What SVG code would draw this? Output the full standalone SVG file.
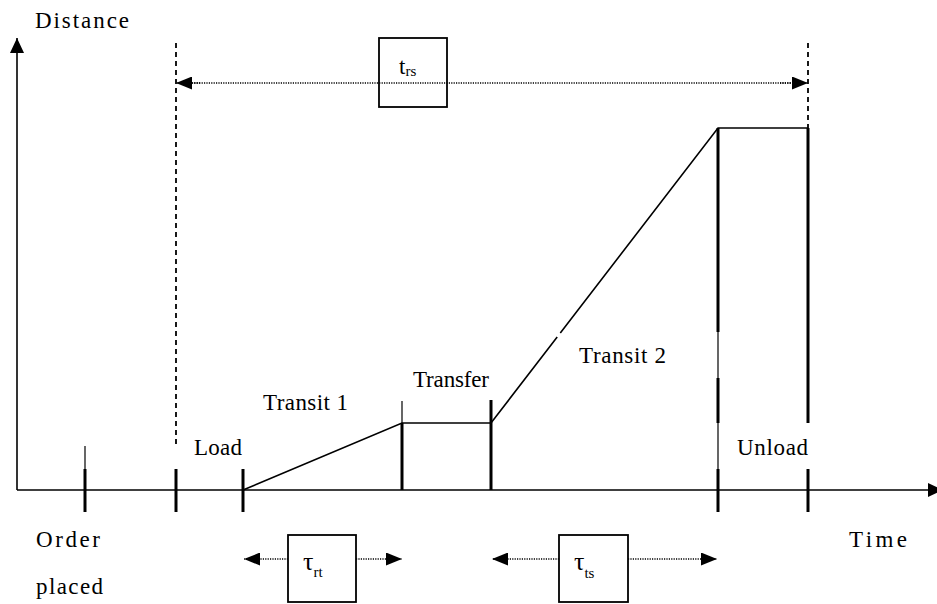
<svg xmlns="http://www.w3.org/2000/svg" width="937" height="604" viewBox="0 0 937 604">
<defs>
  <marker id="ah" viewBox="0 0 16 13" refX="16" refY="6.5" markerWidth="16" markerHeight="13" markerUnits="userSpaceOnUse" orient="auto">
    <path d="M0,0 L16,6.5 L0,13 Z" fill="#000"/>
  </marker>
  <marker id="axh" viewBox="0 0 15 14" refX="15" refY="7" markerWidth="15" markerHeight="14" markerUnits="userSpaceOnUse" orient="auto">
    <path d="M0,0 L15,7 L0,14 Z" fill="#000"/>
  </marker>
</defs>
<rect width="937" height="604" fill="#fff"/>

<g id="connectors" stroke="#000" fill="none">
  <g id="axes" stroke-width="1.6">
    <line x1="17" y1="490" x2="17" y2="38" marker-end="url(#axh)"/>
    <line x1="17" y1="490" x2="943" y2="490" marker-end="url(#axh)"/>
  </g>
  <g id="dashed" stroke-width="1.8" stroke-dasharray="5 4">
    <line x1="176" y1="43" x2="176" y2="446"/>
    <line x1="808" y1="43" x2="808" y2="128"/>
  </g>
  <g id="thin-ticks" stroke-width="1.2">
    <line x1="85" y1="446" x2="85" y2="469"/>
    <line x1="402" y1="401" x2="402" y2="423"/>
    <line x1="718" y1="332" x2="718" y2="378"/>
    <line x1="718" y1="423" x2="718" y2="469"/>
  </g>
  <g id="thick-ticks" stroke-width="3">
    <line x1="85" y1="469" x2="85" y2="512"/>
    <line x1="176" y1="469" x2="176" y2="512"/>
    <line x1="243" y1="469" x2="243" y2="512"/>
    <line x1="402" y1="423" x2="402" y2="490"/>
    <line x1="491" y1="400" x2="491" y2="490"/>
    <line x1="718" y1="128" x2="718" y2="332"/>
    <line x1="718" y1="378" x2="718" y2="423"/>
    <line x1="718" y1="469" x2="718" y2="512"/>
    <line x1="808" y1="128" x2="808" y2="423"/>
    <line x1="808" y1="469" x2="808" y2="512"/>
  </g>
  <g id="profile" stroke-width="1.6">
    <polyline points="243,490 402,423 491,423 557.2,337"/>
    <polyline points="560.3,333 718,128 808,128"/>
  </g>
  <g id="intervals" stroke-width="1.5" stroke-dasharray="1.2 1.2">
    <line x1="192" y1="83" x2="792" y2="83"/>
    <line x1="200" y1="83" x2="176" y2="83" marker-end="url(#ah)"/>
    <line x1="780" y1="83" x2="808" y2="83" marker-end="url(#ah)"/>
    <line x1="288" y1="559" x2="244" y2="559" marker-end="url(#ah)"/>
    <line x1="356" y1="559" x2="402" y2="559" marker-end="url(#ah)"/>
    <line x1="559" y1="559" x2="492" y2="559" marker-end="url(#ah)"/>
    <line x1="628" y1="559" x2="717" y2="559" marker-end="url(#ah)"/>
  </g>
</g>

<g id="axis-labels" fill="#000">
  <text x="35" y="28" font-family="Liberation Serif" font-size="23" textLength="94" lengthAdjust="spacing">Distance</text>
  <text x="849" y="547" font-family="Liberation Serif" font-size="23" textLength="58" lengthAdjust="spacing">Time</text>
  <text x="36" y="547" font-family="Liberation Serif" font-size="23" textLength="64" lengthAdjust="spacing">Order</text>
  <text x="36" y="594" font-family="Liberation Serif" font-size="23" textLength="67" lengthAdjust="spacing">placed</text>
</g>

<g id="phase-labels" fill="#000">
  <text x="194" y="455" font-family="Liberation Serif" font-size="23" textLength="48" lengthAdjust="spacing">Load</text>
  <text x="263" y="410" font-family="Liberation Serif" font-size="23" textLength="85" lengthAdjust="spacing">Transit 1</text>
  <text x="413" y="387" font-family="Liberation Serif" font-size="23" textLength="76" lengthAdjust="spacing">Transfer</text>
  <text x="579" y="363" font-family="Liberation Serif" font-size="23" textLength="87" lengthAdjust="spacing">Transit 2</text>
  <text x="737" y="455" font-family="Liberation Serif" font-size="23" textLength="71" lengthAdjust="spacing">Unload</text>
</g>

<g id="node-trs" fill="#000">
  <rect x="379" y="38" width="68" height="69" fill="none" stroke="#000" stroke-width="1.8"/>
  <text x="399" y="74" font-family="Liberation Serif" font-size="23">t<tspan dy="2" font-size="15">rs</tspan></text>
</g>

<g id="node-trt" fill="#000">
  <rect x="288" y="535" width="68" height="67" fill="#fff" stroke="#000" stroke-width="1.8"/>
  <text x="303" y="570" font-family="Liberation Serif" font-size="26">τ<tspan dy="7" font-size="15">rt</tspan></text>
</g>

<g id="node-tts" fill="#000">
  <rect x="559" y="535" width="69" height="67" fill="#fff" stroke="#000" stroke-width="1.8"/>
  <text x="574" y="570" font-family="Liberation Serif" font-size="26">τ<tspan dy="8" font-size="15">ts</tspan></text>
</g>
</svg>
